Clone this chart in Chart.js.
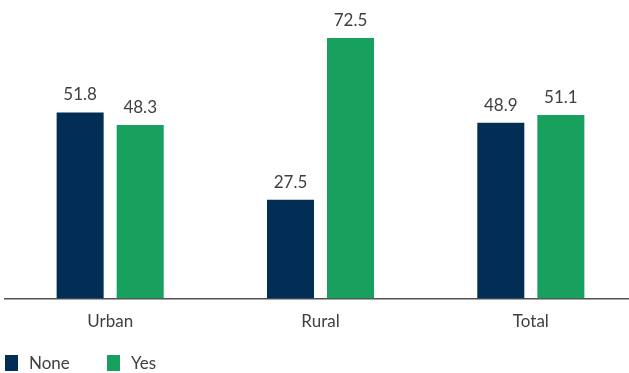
<!DOCTYPE html>
<html>
<head>
<meta charset="utf-8">
<script src="https://cdn.jsdelivr.net/npm/chart.js@4/dist/chart.umd.min.js"></script>
<style>
html,body{margin:0;padding:0;background:#fff;overflow:hidden;}
#wrap{width:636px;height:373px;position:relative;}
</style>
</head>
<body>
<div id="wrap"><canvas id="c"></canvas></div>
<script>
const categories = ["Urban", "Rural", "Total"];
const noneValues = [51.8, 27.5, 48.9];
const yesValues = [48.3, 72.5, 51.1];
const seriesNames = ["None", "Yes"];
const seriesColors = ["#022d54", "#18a05e"];

const FONT = "Lato, 'Open Sans', sans-serif";
const labelPlugin = {
  id: 'valueLabels',
  afterDatasetsDraw(chart) {
    const ctx = chart.ctx;
    ctx.save();
    ctx.font = "17px " + FONT;
    ctx.fillStyle = "#404040";
    ctx.textAlign = "center";
    ctx.textBaseline = "bottom";
    chart.data.datasets.forEach((ds, i) => {
      chart.getDatasetMeta(i).data.forEach((bar, j) => {
        ctx.fillText(ds.data[j].toFixed(1), bar.x, bar.y - 9);
      });
    });
    // legend
    ctx.font = "17px " + FONT;
    ctx.textAlign = "left";
    ctx.textBaseline = "middle";
    const legendX = [5, 107];
    chart.data.datasets.forEach((ds, i) => {
      ctx.fillStyle = ds.backgroundColor;
      ctx.fillRect(legendX[i], 355, 13, 16);
      ctx.fillStyle = "#404040";
      ctx.fillText(ds.label, legendX[i] + 24, 364);
    });
    ctx.restore();
  }
};

new Chart(document.getElementById('c'), {
  type: 'bar',
  data: {
    labels: categories,
    datasets: [
      {label: seriesNames[0], data: noneValues, backgroundColor: seriesColors[0]},
      {label: seriesNames[1], data: yesValues, backgroundColor: seriesColors[1]}
    ]
  },
  options: {
    responsive: true,
    maintainAspectRatio: false,
    animation: false,
    layout: {padding: {left: 5, right: 0, top: 11, bottom: 28}},
    datasets: {bar: {categoryPercentage: 0.571, barPercentage: 0.783}},
    plugins: {
      legend: {display: false},
      tooltip: {enabled: false}
    },
    scales: {
      x: {
        grid: {display: false, drawTicks: false},
        border: {display: true, color: '#505050', width: 1.5},
        ticks: {color: '#404040', font: {family: FONT, size: 17}, padding: 13}
      },
      y: {
        display: false,
        min: 0, max: 80
      }
    }
  },
  plugins: [labelPlugin]
});
</script>
</body>
</html>
